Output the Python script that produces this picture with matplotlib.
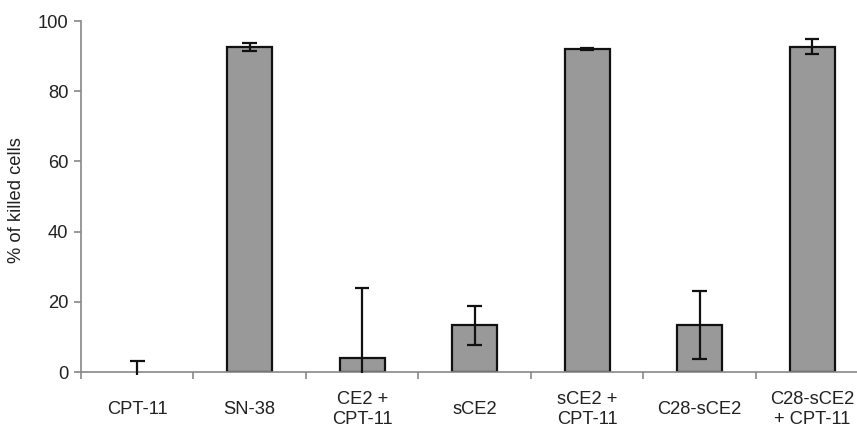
import numpy as np
import matplotlib.pyplot as plt

plt.rcParams['font.family'] = ['Liberation Sans', 'DejaVu Sans']

# data
groups = ['CPT-11', 'SN-38', 'CE2 +\nCPT-11', 'sCE2', 'sCE2 +\nCPT-11',
          'C28-sCE2', 'C28-sCE2\n+ CPT-11']
killed = [0.0, 92.6, 4.1, 13.4, 92.0, 13.4, 92.6]
err_low = [0.8, 1.0, 4.3, 5.6, 0.3, 9.8, 2.0]
err_high = [3.0, 1.0, 19.7, 5.4, 0.3, 9.8, 2.2]

x = np.arange(len(groups))
lo = np.array(killed) - np.array(err_low)
hi = np.array(killed) + np.array(err_high)

fig = plt.figure(figsize=(8.57, 4.37), dpi=100)
ax = fig.add_axes([0.0945, 0.1487, 0.9055, 0.8032])

bars = ax.bar(x, killed, width=0.4, color='#999999', edgecolor='#111111', linewidth=1.6, zorder=2)
for b, v in zip(bars, killed):
    if v == 0:
        b.set_visible(False)

# error bars: stems, top caps, bottom caps only where the stem stays above the axis
ax.vlines(x, lo, hi, color='#111111', linewidth=1.6, zorder=3, clip_on=False)
ax.hlines(hi, x - 0.065, x + 0.065, color='#111111', linewidth=1.6, zorder=3)
keep = lo > 0.5
ax.hlines(lo[keep], x[keep] - 0.065, x[keep] + 0.065, color='#111111', linewidth=1.6, zorder=3)

ax.set_xlim(-0.5, 6.40)
ax.set_ylim(0, 100)
ax.set_yticks(np.arange(0, 101, 20))

for s in ['top', 'right']:
    ax.spines[s].set_visible(False)
for s in ['left', 'bottom']:
    ax.spines[s].set_color('#888888')
    ax.spines[s].set_linewidth(1.2)

fs = 13.2
ax.tick_params(axis='y', direction='out', length=5, width=1.2, color='#888888',
               labelsize=fs, labelcolor='#222222', pad=4)

# category boundary ticks
ax.set_xticks(x - 0.5, minor=True)
ax.tick_params(axis='x', which='minor', direction='out', length=5, width=1.2, color='#888888')
ax.set_xticks(x, groups)
ax.tick_params(axis='x', which='major', length=0, labelsize=fs, labelcolor='#222222', pad=27)
for lab in ax.get_xticklabels():
    lab.set_va('center')
    lab.set_linespacing(1.2)

ax.set_ylabel('% of killed cells', fontsize=fs, color='#222222')
ax.yaxis.set_label_coords(-0.072, 0.49)

fig.savefig('out.png', dpi=100)
